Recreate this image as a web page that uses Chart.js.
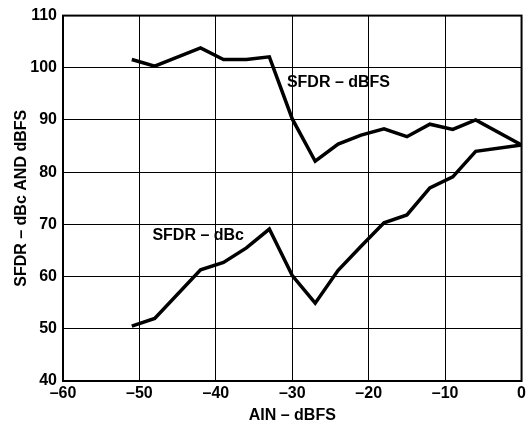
<!DOCTYPE html>
<html>
<head>
<meta charset="utf-8">
<script src="https://cdn.jsdelivr.net/npm/chart.js@4.4.1/dist/chart.umd.min.js"></script>
<style>
  html, body { margin: 0; padding: 0; background: #fff; }
  #wrap { width: 529px; height: 425px; }
</style>
</head>
<body>
<div id="wrap"><canvas id="chart" width="529" height="425"></canvas></div>
<script>
// --- data ---
const dbfsX = [-51, -48, -42, -39, -36, -33, -30, -27, -24, -21, -18, -15, -12, -9, -6, 0];
const dbfsY = [101.6, 100.3, 103.8, 101.6, 101.6, 102.1, 90.2, 82.1, 85.4, 87.1, 88.3, 86.8, 89.2, 88.2, 90.0, 85.2];
const dbcX = [-51, -48, -42, -39, -36, -33, -30, -27, -24, -21, -18, -15, -12, -9, -6, 0];
const dbcY = [50.5, 52.0, 61.3, 62.7, 65.5, 69.1, 60.2, 54.9, 61.2, 65.8, 70.3, 71.8, 77.0, 79.1, 84.0, 85.2];

const xTicks = [-60, -50, -40, -30, -20, -10, 0];
const yTicks = [40, 50, 60, 70, 80, 90, 100, 110];

// labels placed on the plot, in data units
const seriesLabels = [
  { text: 'SFDR \u2013 dBFS', x: -30.7, y: 97.1 },
  { text: 'SFDR \u2013 dBc', x: -48.3, y: 67.8 }
];

const FONT = '"Liberation Sans", Arial, sans-serif';

function toPoints(xs, ys) {
  return xs.map((x, i) => ({ x: x, y: ys[i] }));
}

// draw the in-plot text labels
const labelPlugin = {
  id: 'seriesLabels',
  afterDatasetsDraw(chart) {
    const c = chart.ctx;
    const xs = chart.scales.x, ys = chart.scales.y;
    c.save();
    c.font = 'bold 16px ' + FONT;
    c.fillStyle = '#000';
    c.textAlign = 'left';
    c.textBaseline = 'middle';
    seriesLabels.forEach(l => {
      c.fillText(l.text, xs.getPixelForValue(l.x), ys.getPixelForValue(l.y));
    });
    c.restore();
  }
};

// heavier frame round the plot
const framePlugin = {
  id: 'frame',
  afterDraw(chart) {
    const a = chart.chartArea;
    const c = chart.ctx;
    c.save();
    c.strokeStyle = '#000';
    c.lineWidth = 2;
    c.strokeRect(a.left, a.top, a.right - a.left, a.bottom - a.top);
    c.restore();
  }
};

const lineStyle = {
  borderColor: '#000',
  borderWidth: 3.5,
  pointRadius: 0,
  tension: 0,
  fill: false,
  borderJoinStyle: 'miter'
};

new Chart(document.getElementById('chart'), {
  type: 'line',
  data: {
    datasets: [
      Object.assign({ label: 'SFDR - dBFS', data: toPoints(dbfsX, dbfsY) }, lineStyle),
      Object.assign({ label: 'SFDR - dBc', data: toPoints(dbcX, dbcY) }, lineStyle)
    ]
  },
  options: {
    responsive: false,
    animation: false,
    devicePixelRatio: 1,
    layout: { padding: { top: 8, right: 1, left: 0, bottom: 0 } },
    plugins: { legend: { display: false }, tooltip: { enabled: false } },
    scales: {
      x: {
        type: 'linear',
        min: -60, max: 0,
        afterBuildTicks: s => { s.ticks = xTicks.map(v => ({ value: v })); },
        afterFit: s => { s.height = 44; },
        grid: { color: '#000', lineWidth: 1, drawTicks: false },
        border: { display: false },
        ticks: {
          color: '#000',
          padding: 3,
          maxRotation: 0,
          font: { family: FONT, size: 16, weight: 'bold' },
          callback: v => (v < 0 ? '\u2013' + Math.abs(v) : String(v))
        },
        title: {
          display: true,
          text: 'AIN \u2013 dBFS',
          color: '#000',
          padding: { top: 0, bottom: 0 },
          font: { family: FONT, size: 16, weight: 'bold' }
        }
      },
      y: {
        type: 'linear',
        min: 40, max: 110,
        afterBuildTicks: s => { s.ticks = yTicks.map(v => ({ value: v })); },
        afterFit: s => { s.width = 63; },
        grid: { color: '#000', lineWidth: 1, drawTicks: false },
        border: { display: false },
        ticks: {
          color: '#000',
          padding: 6,
          font: { family: FONT, size: 16, weight: 'bold' }
        },
        title: {
          display: true,
          text: 'SFDR \u2013 dBc AND dBFS',
          color: '#000',
          padding: { top: 12, bottom: 0 },
          font: { family: FONT, size: 16, weight: 'bold' }
        }
      }
    }
  },
  plugins: [labelPlugin, framePlugin]
});
</script>
</body>
</html>
